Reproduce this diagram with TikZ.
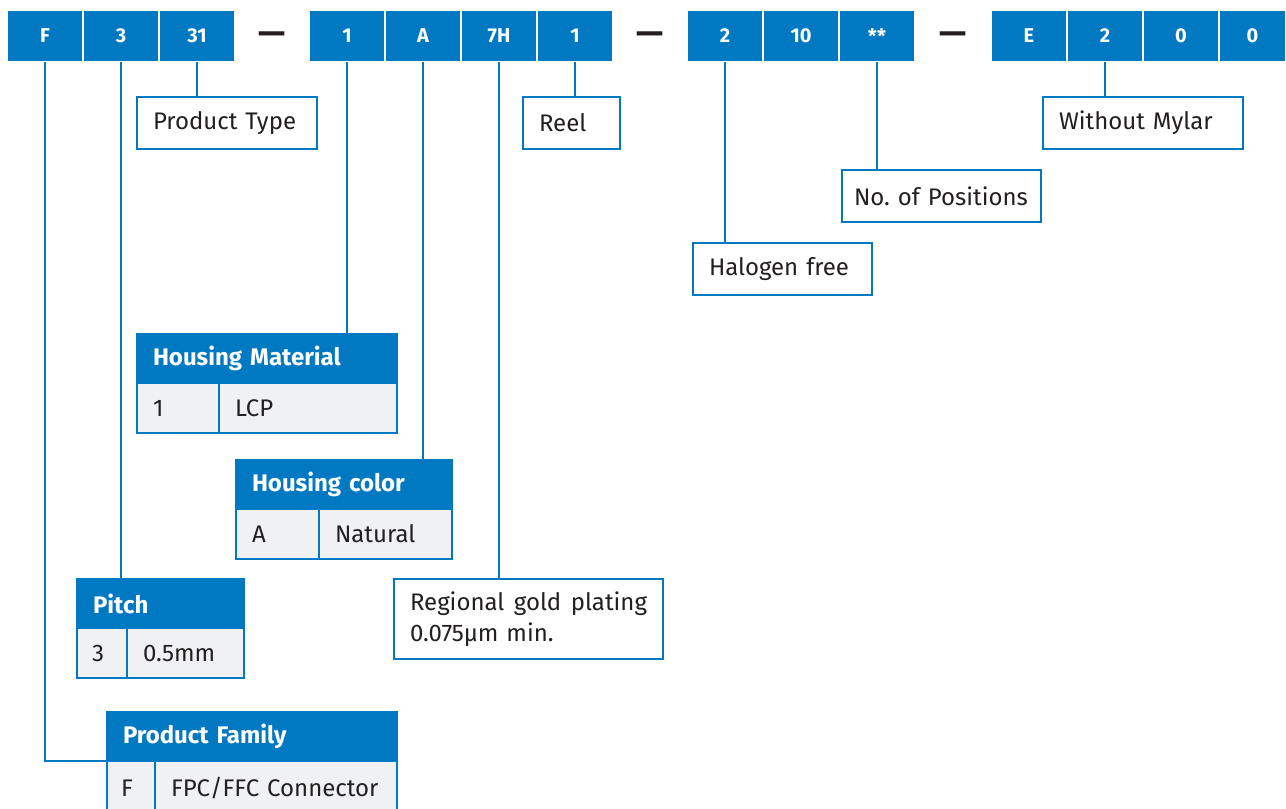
\documentclass[tikz,border=0pt]{standalone}
\usepackage{fontspec}
\setmainfont{Fira Sans}
\usepackage{xcolor}
\usetikzlibrary{positioning}
\definecolor{sblue}{RGB}{0,120,194}
\definecolor{sgray}{RGB}{240,241,243}
\definecolor{txt}{RGB}{35,31,32}
\frenchspacing

\begin{document}
\begin{tikzpicture}[x=1pt, y=-1pt,
    outer sep=0pt,
    code/.style = {fill=sblue, draw=white, line width=2pt, text=white,
      font=\fontsize{20}{24}\selectfont\bfseries,
      minimum width=76pt, minimum height=52pt, inner sep=0pt, anchor=north west},
    sep/.style = {font=\fontsize{34}{34}\selectfont\bfseries, text=txt, inner sep=0pt},
    note/.style = {draw=sblue, line width=2pt, fill=white, text=txt,
      font=\fontsize{24}{31}\selectfont, align=left, anchor=north west,
      inner xsep=16pt, inner ysep=0pt, minimum height=52pt},
    head/.style = {fill=sblue, draw=sblue, line width=2pt, text=white,
      font=\fontsize{24}{30}\selectfont\bfseries, align=left, anchor=north west,
      inner xsep=16pt, inner ysep=0pt, minimum height=49pt},
    cell/.style = {fill=sgray, draw=sblue, line width=2pt, text=txt,
      font=\fontsize{24}{30}\selectfont, align=left, anchor=north west,
      inner xsep=16pt, inner ysep=0pt, minimum height=50pt},
    conn/.style = {draw=sblue, line width=2pt}]
\useasboundingbox (0,0) rectangle (1286,809);

  % part number
  \node[code] (cF) at (7,10) {F};
  \node[code] (c3) at (83,10) {3};
  \node[code] (c31) at (159,10) {31};
  \node[sep] (d1) at (272,38) {—};
  \node[code] (cHM) at (309,10) {1};
  \node[code] (cHC) at (385,10) {A};
  \node[code] (cPl) at (461,10) {7H};
  \node[code] (cPk) at (537,10) {1};
  \node[sep] (d2) at (650,38) {—};
  \node[code] (cHF) at (687,10) {2};
  \node[code] (cPos) at (763,10) {10};
  \node[code] (cSt) at (839,10) {**};
  \node[sep] (d3) at (953,38) {—};
  \node[code] (cE) at (991,10) {E};
  \node[code] (cMy) at (1067,10) {2};
  \node[code] (cZa) at (1143,10) {0};
  \node[code, minimum width=67pt] (cZb) at (1219,10) {0};

  % notes
  \node[note, text width=148pt] (ptype) at (137,97) {Product Type};
  \node[note, text width=65pt] (reel) at (523,97) {Reel};
  \node[note, text width=168pt] (mylar) at (1043,97) {Without Mylar};
  \node[note, text width=175pt, inner xsep=12pt] (npos) at (842,170) {\mbox{No. of Positions}};
  \node[note, text width=147pt] (hfree) at (693,243) {Halogen free};
  \node[note, text width=237pt, minimum height=80pt] (gold) at (394,579)
    {Regional\hfill gold\hfill plating\\0.075μm min.};

  % tables
  \node[head, text width=228pt] (hmat) at (137,334) {Housing Material};
  \node[cell, text width=50pt] (hmat1) at (hmat.south west) {1};
  \node[cell, text width=146pt] (hmat2) at (hmat1.north east) {LCP};

  \node[head, text width=184pt] (hcol) at (236,460) {Housing color};
  \node[cell, text width=51pt] (hcol1) at (hcol.south west) {A};
  \node[cell, text width=101pt] (hcol2) at (hcol1.north east) {Natural};

  \node[head, text width=135pt] (pitch) at (77,579) {Pitch};
  \node[cell, text width=20pt, inner xsep=15pt] (pitch1) at (pitch.south west) {3};
  \node[cell, text width=85pt] (pitch2) at (pitch1.north east) {0.5mm};

  \node[head, text width=258pt] (pfam) at (107,712) {Product Family};
  \node[cell, text width=20pt, inner xsep=14pt, minimum height=54pt] (pfam1) at (pfam.south west) {F};
  \node[cell, text width=210pt, minimum height=54pt] (pfam2) at (pfam1.north east) {FPC/FFC Connector};

  % leader lines
  \draw[conn] (cF.south) |- (pfam.south west);
  \draw[conn] (c3.south) -- (c3.south |- pitch.north);
  \draw[conn] (c31.south) -- (c31.south |- ptype.north);
  \draw[conn] (cHM.south) -- (cHM.south |- hmat.north);
  \draw[conn] (cHC.south) -- (cHC.south |- hcol.north);
  \draw[conn] (cPl.south) -- (cPl.south |- gold.north);
  \draw[conn] (cPk.south) -- (cPk.south |- reel.north);
  \draw[conn] (cHF.south) -- (cHF.south |- hfree.north);
  \draw[conn] (cSt.south) -- (cSt.south |- npos.north);
  \draw[conn] (cMy.south) -- (cMy.south |- mylar.north);
\end{tikzpicture}
\end{document}
